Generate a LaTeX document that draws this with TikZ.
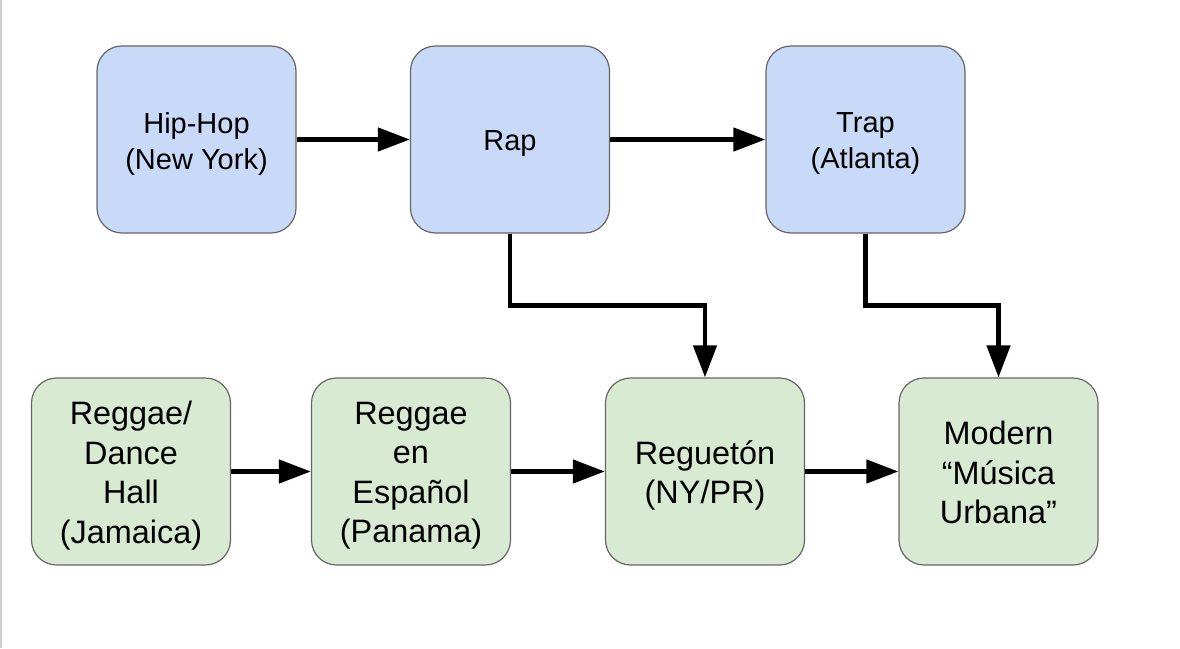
\documentclass[tikz,border=0pt]{standalone}
\usepackage{fontspec}
\setmainfont{Liberation Sans}
\usetikzlibrary{arrows.meta}
\definecolor{boxblue}{HTML}{C9DAF8}
\definecolor{boxgreen}{HTML}{D9EAD3}
\definecolor{boxedge}{HTML}{666666}
\definecolor{edgeline}{HTML}{D0D0D0}
\tikzset{
  genre/.style={draw=boxedge, line width=1.2pt, rounded corners=25pt,
    minimum width=199pt, minimum height=187pt, inner sep=0pt},
  toptext/.style={align=center, text=black, inner sep=0pt, yshift=-4pt,
    font=\fontsize{29}{36}\selectfont},
  bottext/.style={align=center, text=black, inner sep=0pt, yshift=-4pt,
    font=\fontsize{32.4}{39.5}\selectfont},
  topbox/.style={genre, fill=boxblue, label={[toptext]center:#1}},
  botbox/.style={genre, fill=boxgreen, label={[bottext]center:#1}},
  flow/.style={line width=4.5pt, -{Triangle[length=32pt,width=23pt]}},
}
\begin{document}
\begin{tikzpicture}[x={(1pt,0)}, y={(0,-1pt)}]
\useasboundingbox[fill=white] (0,0) rectangle (1180,648);
\draw[edgeline, line width=1.5pt] (1,0) -- (1,648);
\node[topbox={Hip-Hop\\(New York)}] (hiphop) at (196.5,139.5) {};
\node[topbox={Rap}] (rap) at (510,139.5) {};
\node[topbox={Trap\\(Atlanta)}] (trap) at (865.5,139.5) {};
\node[botbox={Reggae/\\Dance\\Hall\\(Jamaica)}] (reggae) at (131,471.5) {};
\node[botbox={Reggae\\en\\Español\\(Panama)}] (espanol) at (411,471.5) {};
\node[botbox={Reguetón\\(NY/PR)}] (regueton) at (705,471.5) {};
\node[genre, fill=boxgreen, label={[bottext, yshift=3pt]center:Modern\\“Música\\Urbana”}] (modern) at (998.5,471.5) {};
\draw[flow] (hiphop) -- (rap);
\draw[flow] (rap) -- (trap);
\draw[flow] (reggae) -- (espanol);
\draw[flow] (espanol) -- (regueton);
\draw[flow] (regueton) -- (modern);
\draw[flow] (rap.south) -- ++(0,72) -| (regueton.north);
\draw[flow] (trap.south) -- ++(0,72) -| (modern.north);
\end{tikzpicture}
\end{document}
